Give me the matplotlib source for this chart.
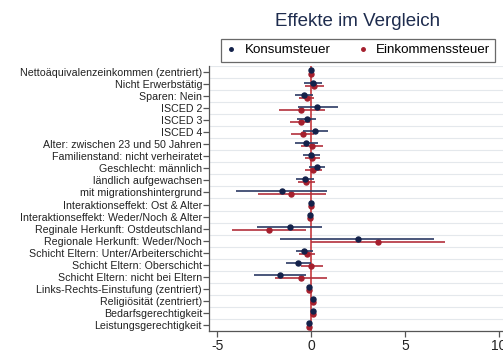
import matplotlib
matplotlib.use("Agg")
import matplotlib.pyplot as plt
import numpy as np

plt.rcParams['font.family'] = ['Liberation Sans', 'DejaVu Sans']

labels = [
    "Nettoäquivalenzeinkommen (zentriert)",
    "Nicht Erwerbstätig",
    "Sparen: Nein",
    "ISCED 2",
    "ISCED 3",
    "ISCED 4",
    "Alter: zwischen 23 und 50 Jahren",
    "Familienstand: nicht verheiratet",
    "Geschlecht: männlich",
    "ländlich aufgewachsen",
    "mit migrationshintergrund",
    "Interaktionseffekt: Ost & Alter",
    "Interaktionseffekt: Weder/Noch & Alter",
    "Reginale Herkunft: Ostdeutschland",
    "Regionale Herkunft: Weder/Noch",
    "Schicht Eltern: Unter/Arbeiterschicht",
    "Schicht Eltern: Oberschicht",
    "Schicht Eltern: nicht bei Eltern",
    "Links-Rechts-Einstufung (zentriert)",
    "Religiösität (zentriert)",
    "Bedarfsgerechtigkeit",
    "Leistungsgerechtigkeit",
]

# Konsumsteuer: Koeffizient, untere / obere Grenze
konsum = [0.00, 0.09, -0.37, 0.32, -0.23, 0.23, -0.25, 0.00, 0.32, -0.34, -1.57,
          0.00, -0.05, -1.13, 2.48, -0.36, -0.72, -1.65, -0.09, 0.12, 0.10, -0.09]
konsum_lo = [-0.04, -0.39, -0.83, -0.71, -0.74, -0.44, -0.85, -0.44, -0.09, -0.80, -4.01,
             -0.04, -0.09, -2.86, -1.64, -0.81, -1.35, -3.03, -0.14, 0.06, 0.00, -0.16]
konsum_hi = [0.04, 0.58, 0.12, 1.41, 0.28, 0.92, 0.35, 0.46, 0.76, 0.18, 0.85,
             0.04, -0.01, 0.57, 6.52, 0.09, -0.03, -0.28, -0.04, 0.18, 0.20, -0.02]

# Einkommensteuer
einkommen = [0.00, 0.14, -0.23, -0.51, -0.55, -0.42, 0.04, 0.07, 0.12, -0.25, -1.06,
             0.00, -0.05, -2.26, 3.55, -0.24, 0.00, -0.52, -0.09, 0.10, 0.12, -0.10]
einkommen_lo = [-0.04, -0.34, -0.62, -1.71, -1.10, -1.06, -0.53, -0.34, -0.30, -0.67, -2.83,
                -0.04, -0.09, -4.22, 0.00, -0.63, -0.55, -1.91, -0.15, 0.04, 0.00, -0.18]
einkommen_hi = [0.04, 0.71, 0.16, 0.72, -0.05, 0.18, 0.65, 0.49, 0.57, 0.23, 0.80,
                0.04, -0.01, -0.28, 7.14, 0.23, 0.64, 0.87, -0.03, 0.16, 0.24, -0.02]

navy = "#13214a"
red = "#a51f2d"

fig = plt.figure(figsize=(5.03, 3.53), dpi=100)
ax = fig.add_axes([209 / 503, 22 / 353, 300 / 503, 265 / 353])

y = np.arange(len(labels))
k = np.array(konsum)
e = np.array(einkommen)

ax.axvline(0, color="#c0282e", lw=1.1, zorder=2)

ax.errorbar(k, y - 0.13, xerr=[k - np.array(konsum_lo), np.array(konsum_hi) - k],
            fmt="o", color=navy, ecolor="#2b3a63", elinewidth=1.2, ms=3.6,
            capsize=0, label="Konsumsteuer", zorder=4)
ax.errorbar(e, y + 0.13, xerr=[e - np.array(einkommen_lo), np.array(einkommen_hi) - e],
            fmt="o", color=red, ecolor="#b3303c", elinewidth=1.2, ms=3.6,
            capsize=0, label="Einkommenssteuer", zorder=3)

ax.set_ylim(len(labels) - 0.5, -0.5)
ax.set_xlim(-5.43, 10.53)
ax.set_yticks(y)
ax.set_yticklabels(labels, fontsize=7.7, color="#222222")
ax.set_xticks([-5, 0, 5, 10])
ax.set_xticklabels(["-5", "0", "5", "10"], fontsize=10, color="#222222")

for g in np.arange(-0.5, len(labels), 1.0):
    ax.axhline(g, color="#e4e8ec", lw=0.8, zorder=0)

for s in ["top", "right"]:
    ax.spines[s].set_visible(False)
for s in ["left", "bottom"]:
    ax.spines[s].set_color("#555555")
    ax.spines[s].set_linewidth(0.9)
ax.tick_params(axis="y", length=4, width=0.9, color="#555555", pad=1)
ax.tick_params(axis="x", length=4, width=0.9, color="#555555", pad=1.5)

fig.text(358 / 503, 1 - 21 / 353, "Effekte im Vergleich", ha="center", va="center",
         fontsize=13.5, color="#1e2c4e")

handles, labs = ax.get_legend_handles_labels()
handles = [h[0] for h in handles]
leg = fig.legend(handles, labs, loc="center", bbox_to_anchor=(358 / 503, 1 - 50 / 353),
                 ncol=2, fontsize=9.6, frameon=True, fancybox=False, markerscale=0.7,
                 handlelength=0.8, handletextpad=0.6, columnspacing=2.0,
                 borderpad=0.4)
leg.get_frame().set_edgecolor("#444444")
leg.get_frame().set_linewidth(0.9)

fig.savefig("out.png", dpi=100)
